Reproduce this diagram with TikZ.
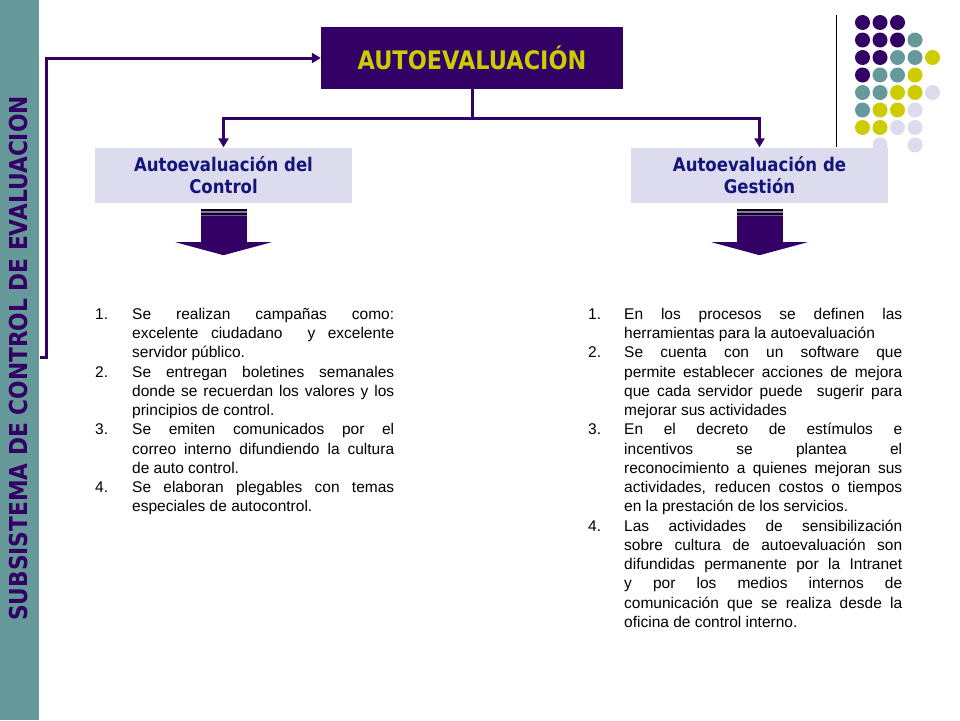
\documentclass[tikz,border=0pt]{standalone}
\usepackage{fontspec}
\setmainfont{Liberation Sans}
\newfontfamily\tahoma[FakeStretch=0.88]{DejaVu Sans}
\usepackage{enumitem}
\usetikzlibrary{arrows.meta}

\definecolor{purp}{HTML}{330066}
\definecolor{yell}{HTML}{CCCC00}
\definecolor{tealg}{HTML}{669999}
\definecolor{lav}{HTML}{DCDCEE}
\definecolor{navy}{HTML}{14147A}

\tikzset{
  conn/.style={draw=purp, line width=3pt},
  tip/.style={-{Triangle[length=9pt,width=10pt]}},
  headbox/.style={fill=purp, text=yell, minimum width=302pt, minimum height=62pt,
    font=\tahoma\bfseries\fontsize{25.5}{28}\selectfont},
  subbox/.style={fill=lav, text=navy, minimum width=257pt, minimum height=55pt, align=center,
    font=\tahoma\bfseries\fontsize{18.8}{22}\selectfont},
  listtext/.style={anchor=north west, inner sep=0pt, align=justify, font=\fontsize{15.5}{19.25}\selectfont},
}

% block arrow under a box
\newcommand{\blockarrow}[1]{%
\begin{scope}[shift={(#1.south)}]
\fill[purp] (-23,6.5) rectangle (23,40);
\fill[black!80!purp] (-23,6.5) rectangle (23,8.5);
\fill[purp!55!white] (-23,8.5) rectangle (23,10.5);
\fill[black!80!purp] (-23,10.5) rectangle (23,12);
\fill[purp!65!white] (-23,12) rectangle (23,13.5);
\fill[purp] (-48,39.5) -- (48,39.5) -- (0,52.5) -- cycle;
\end{scope}}

\newcommand{\listsetup}{\hyphenpenalty=10000 \tolerance=9999 \emergencystretch=0pt}

\begin{document}
\begin{tikzpicture}[x=1pt,y=-1pt]
\useasboundingbox (0,0) rectangle (960,720);

% side bar
\fill[tealg] (0,0) rectangle (39,720);
\node[rotate=90, text=purp, font=\tahoma\bfseries\fontsize{24.7}{28}\selectfont] (side) at (19,358.5) {SUBSISTEMA DE CONTROL DE EVALUACION};

% dots
\foreach \r/\cl in {0/{purp,purp,purp},1/{purp,purp,purp,tealg},2/{purp,purp,tealg,tealg,yell},
  3/{purp,tealg,tealg,yell},4/{tealg,tealg,yell,yell,lav},5/{tealg,yell,yell,lav},
  6/{yell,yell,lav,lav},7/{none,lav,none,lav}}{
  \foreach \c [count=\k from 0] in \cl {
    \fill[fill=\c] (862.5+17.5*\k,22.5+17.5*\r) circle (7.5);
  }
}
\draw[black, line width=1pt] (836,15) -- (836,147);

% boxes
\node[headbox] (auto) at (472,58) {AUTOEVALUACIÓN};
\node[subbox] (ctrl) at (223.5,175) {Autoevaluación del\\Control};
\node[subbox] (gest) at (759.5,175) {Autoevaluación de\\Gestión};

% connectors
\coordinate (split) at (472,118);
\draw[conn] (auto.south) -- (split);
\draw[conn,tip] (split) -| (ctrl.north);
\draw[conn,tip] (split) -| (gest.north);
\coordinate (back) at (40,357);
\draw[conn,tip] (back) -- ++(6.5,0) |- (auto.west);

\blockarrow{ctrl}
\blockarrow{gest}

% lists
\node[listtext, text width=299pt] (lctrl) at (95,300) {\listsetup
\begin{enumerate}[label=\arabic*., leftmargin=37pt, labelindent=0pt, labelwidth=37pt, labelsep=0pt, align=left, itemsep=0pt, topsep=0pt, parsep=0pt, partopsep=0pt]
\item Se realizan campañas como:\linebreak excelente ciudadano~ y excelente\linebreak servidor público.
\item Se entregan boletines semanales\linebreak donde se recuerdan los valores y los\linebreak principios de control.
\item Se emiten comunicados por el\linebreak correo interno difundiendo la cultura\linebreak de auto control.
\item Se elaboran plegables con temas\linebreak especiales de autocontrol.
\end{enumerate}};

\node[listtext, text width=314pt] (lgest) at (588,300) {\listsetup
\begin{enumerate}[label=\arabic*., leftmargin=36pt, labelindent=0pt, labelwidth=36pt, labelsep=0pt, align=left, itemsep=0pt, topsep=0pt, parsep=0pt, partopsep=0pt]
\item En los procesos se definen las\linebreak herramientas para la autoevaluación
\item Se cuenta con un software que\linebreak permite establecer acciones de mejora\linebreak que cada servidor puede~ sugerir para\linebreak mejorar sus actividades
\item En el decreto de estímulos e\linebreak incentivos se plantea el\linebreak reconocimiento a quienes mejoran sus\linebreak actividades, reducen costos o tiempos\linebreak en la prestación de los servicios.
\item Las actividades de sensibilización\linebreak sobre cultura de autoevaluación son\linebreak difundidas permanente por la Intranet\linebreak y por los medios internos de\linebreak comunicación que se realiza desde la\linebreak oficina de control interno.
\end{enumerate}};
\end{tikzpicture}
\end{document}
